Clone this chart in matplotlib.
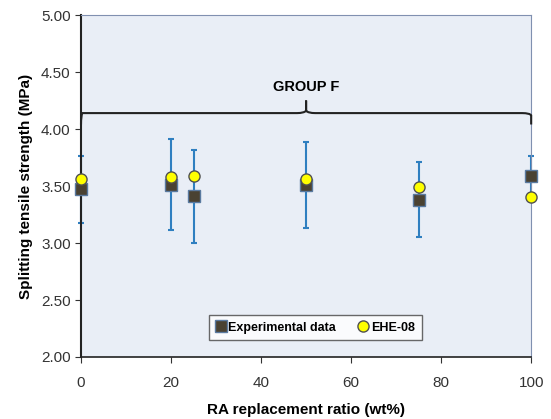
import matplotlib.pyplot as plt
from matplotlib.path import Path
import matplotlib.patches as mpatches

plt.rcParams['font.family'] = ['Liberation Sans', 'DejaVu Sans']

# data
ra_ratio = [0, 20, 25, 50, 75, 100]
experimental = [3.47, 3.51, 3.41, 3.51, 3.38, 3.59]
exp_error = [0.29, 0.40, 0.41, 0.38, 0.33, 0.17]
ehe08 = [3.56, 3.58, 3.59, 3.56, 3.49, 3.40]

fig = plt.figure(figsize=(5.51, 4.19), dpi=100)
ax = fig.add_axes([0.147, 0.148, 0.817, 0.816])
ax.set_facecolor('#e9eef6')

ax.errorbar(ra_ratio, experimental, yerr=exp_error, fmt='none', ecolor='#2f7fc0',
            elinewidth=1.5, capsize=2.5, capthick=1.5, zorder=2, clip_on=False)
ax.plot(ra_ratio, experimental, 's', color='#4a4232', markeredgecolor='#5a7aa0',
        markersize=8, label='Experimental data', zorder=3, clip_on=False)
ax.plot(ra_ratio, ehe08, 'o', color='#ffff00', markeredgecolor='#505050',
        markersize=8, label='EHE-08', zorder=4, clip_on=False)

# curly brace over the whole group
y0, ym, yt = 4.04, 4.14, 4.25
verts = [(0, y0), (0, ym - 0.02), (0.3, ym), (2, ym),
         (48, ym), (49.5, ym), (50, ym + 0.02), (50, yt),
         (50, ym + 0.02), (50.5, ym), (52, ym),
         (98, ym), (99.7, ym), (100, ym - 0.02), (100, y0)]
codes = [Path.MOVETO, Path.CURVE3, Path.CURVE3, Path.LINETO,
         Path.LINETO, Path.CURVE3, Path.CURVE3, Path.LINETO,
         Path.LINETO, Path.CURVE3, Path.CURVE3,
         Path.LINETO, Path.CURVE3, Path.CURVE3, Path.LINETO]
ax.add_patch(mpatches.PathPatch(Path(verts, codes), fill=False, lw=1.5,
                                edgecolor='#222222', clip_on=False, zorder=5))
ax.text(50, 4.37, 'GROUP F', ha='center', va='center', fontsize=10.5,
        fontweight='bold')

ax.set_xlim(0, 100)
ax.set_ylim(2.0, 5.0)
ax.set_xticks([0, 20, 40, 60, 80, 100])
ax.set_yticks([2.0, 2.5, 3.0, 3.5, 4.0, 4.5, 5.0])
ax.set_yticklabels([f'{v:.2f}' for v in ax.get_yticks()])
ax.tick_params(direction='out', labelsize=11, colors='#333333', length=4)
ax.tick_params(axis='x', pad=10)

ax.spines['left'].set_color('#222222')
ax.spines['bottom'].set_color('#222222')
ax.spines['left'].set_linewidth(1.5)
ax.spines['bottom'].set_linewidth(1.2)
ax.spines['top'].set_color('#8090b0')
ax.spines['right'].set_color('#8090b0')

ax.set_xlabel('RA replacement ratio (wt%)', fontsize=11, fontweight='bold',
              labelpad=9)
ax.set_ylabel('Splitting tensile strength (MPa)', fontsize=11, fontweight='bold',
              labelpad=6)

leg = ax.legend(loc='lower center', bbox_to_anchor=(0.52, 0.03), ncol=2,
                frameon=True, fancybox=False, handlelength=0.8,
                handletextpad=0.2, columnspacing=1.8, borderpad=0.55,
                prop={'weight': 'bold', 'size': 9})
leg.get_frame().set_edgecolor('#444444')
leg.get_frame().set_facecolor('white')

fig.savefig('out.png', dpi=100)
